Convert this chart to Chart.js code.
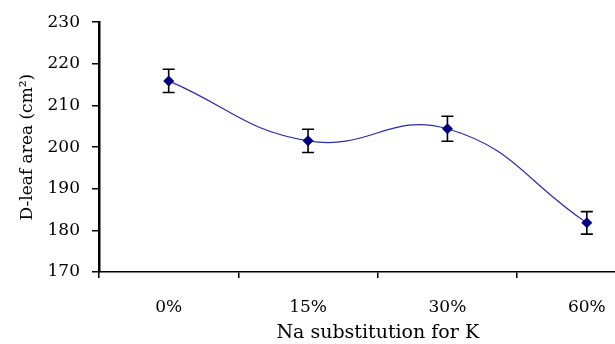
<!DOCTYPE html>
<html>
<head>
<meta charset="utf-8">
<script src="https://cdn.jsdelivr.net/npm/chart.js@4"></script>
<style>
  html, body { margin: 0; padding: 0; background: #fff; overflow: hidden; }
  #wrap { width: 662px; height: 344px; }
</style>
</head>
<body>
<div id="wrap"><canvas id="grafico" width="662" height="344"></canvas></div>
<script>
const categorias = ['0%', '15%', '30%', '60%'];
const areaFolha = [215.9, 201.5, 204.4, 181.8];
const erros = [2.8, 2.8, 3.0, 2.7];
const ticksY = [170, 180, 190, 200, 210, 220, 230];

const barrasErro = {
    id: 'barrasErro',
    beforeDatasetsDraw(chart) {
        const ctx = chart.ctx;
        const x = chart.scales.x;
        const y = chart.scales.y;
        ctx.save();
        ctx.strokeStyle = '#000';
        ctx.lineWidth = 1.6;
        areaFolha.forEach((v, i) => {
            const px = x.getPixelForValue(i);
            const top = y.getPixelForValue(v + erros[i]);
            const bot = y.getPixelForValue(v - erros[i]);
            ctx.beginPath();
            ctx.moveTo(px, top); ctx.lineTo(px, bot);
            ctx.moveTo(px - 6, top); ctx.lineTo(px + 6, top);
            ctx.moveTo(px - 6, bot); ctx.lineTo(px + 6, bot);
            ctx.stroke();
        });
        ctx.restore();
    }
};

const serif = "'DejaVu Serif', serif";
Chart.defaults.font.family = serif;

new Chart(document.getElementById('grafico').getContext('2d'), {
    type: 'line',
    data: {
        labels: categorias,
        datasets: [{
            data: areaFolha,
            borderColor: '#2a2ab0',
            borderWidth: 1.2,
            tension: 0.45,
            pointStyle: 'rectRot',
            pointRadius: 5.5,
            pointBackgroundColor: '#000080',
            pointBorderColor: '#000080',
            pointBorderWidth: 0
        }]
    },
    options: {
        responsive: false,
        animation: false,
        layout: { padding: { top: 22, right: 3, left: 0, bottom: 0 } },
        plugins: { legend: { display: false }, tooltip: { enabled: false } },
        scales: {
            x: {
                type: 'category',
                offset: true,
                grid: { offset: true, drawOnChartArea: false, tickLength: 6, color: '#000', lineWidth: 1.5 },
                border: { color: '#000', width: 1.5 },
                ticks: { color: '#000', font: { family: serif, size: 17 }, padding: 19 },
                title: { display: true, text: 'Na substitution for K', color: '#000',
                         font: { family: serif, size: 19 }, padding: { top: 2, bottom: 0 } },
                afterFit(s) { s.height = 72; }
            },
            y: {
                min: 170, max: 230,
                afterBuildTicks(s) { s.ticks = ticksY.map(v => ({ value: v })); },
                grid: { drawOnChartArea: false, tickLength: 7, color: '#000', lineWidth: 1.5 },
                border: { color: '#000', width: 2.5 },
                ticks: { color: '#000', font: { family: serif, size: 17 }, padding: 12 },
                title: { display: true, text: 'D-leaf area (cm²)', color: '#000',
                         font: { family: serif, size: 17 }, padding: { top: 17, bottom: 0 } },
                afterFit(s) { s.width = 99; }
            }
        }
    },
    plugins: [barrasErro]
});
</script>
</body>
</html>
